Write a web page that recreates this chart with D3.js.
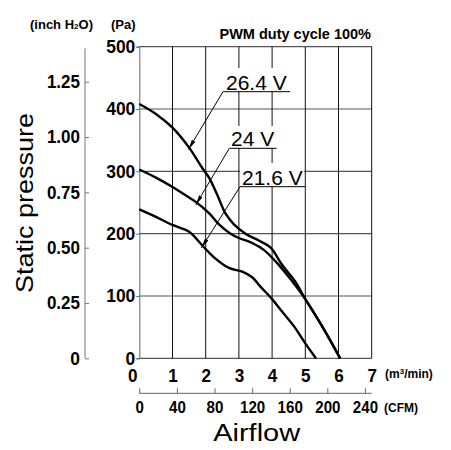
<!DOCTYPE html>
<html>
<head>
<meta charset="utf-8">
<title></title>
<script src="https://d3js.org/d3.v7.min.js"></script>
<style type="text/css">
	body { margin: 0; background: #fff; }
	.num { font-family: "Liberation Sans", Arial, sans-serif; font-weight: bold; }
	.lbl { font-family: "Liberation Sans", Arial, sans-serif; }
</style>
</head>
<body>
<script type="text/javascript">

var width = 451,
	height = 450;

// airflow in m3/min, static pressure in Pa
var v264_flow = [0, 0.5, 1, 1.5, 1.9, 2.1, 2.35, 2.6, 2.85, 3.2, 3.6, 3.95, 4.3, 4.7, 5, 5.5, 6.05];
var v264_pa   = [408, 392, 370, 338, 305, 290, 262, 232, 215, 200, 189, 178, 150, 123, 95, 52, 0];

var v24_flow = [0, 0.5, 1, 1.5, 1.7, 2.1, 2.4, 2.75, 3, 3.4, 3.75, 4.2, 4.6, 5, 5.5, 6.05];
var v24_pa   = [303, 290, 275, 258, 251, 233, 215, 200, 193, 185, 174, 150, 124, 95, 52, 0];

var v216_flow = [0, 0.5, 1, 1.5, 1.9, 2.25, 2.7, 3.1, 3.4, 3.65, 4, 4.3, 4.65, 5, 5.32];
var v216_pa   = [239, 227, 214, 203, 181, 162, 145, 139, 130, 115, 95, 75, 52, 24, 0];

var flowTicks = [0, 1, 2, 3, 4, 5, 6, 7];
var paTicks = [0, 100, 200, 300, 400, 500];
var inchTicks = [0, 0.25, 0.5, 0.75, 1.0, 1.25];
var cfmTicks = [0, 40, 80, 120, 160, 200, 240];

var svg = d3.select('body').append('svg')
	.attr('width', width)
	.attr('height', height)

var x = d3.scaleLinear().domain([0, 7]).range([139.3, 371.7]);
var y = d3.scaleLinear().domain([0, 500]).range([358.3, 46.7]);
var yInch = d3.scaleLinear().domain([0, 1.25]).range([358.3, 81.7]);
var xCfm = d3.scaleLinear().domain([0, 7 * 35.3147]).range([139.3, 371.7]);

// squeeze tick text into a condensed look
function condense(sel, digitW) {
	sel.each(function() {
		var t = d3.select(this), s = t.text();
		var w = 0;
		for (var i = 0; i < s.length; i++) w += (s[i] === '.' ? 4 : digitW);
		t.attr('textLength', w).attr('lengthAdjust', 'spacingAndGlyphs');
	});
}

// grid
svg.append('g').selectAll('line')
	.data(paTicks)
	.enter().append('line')
	.attr('x1', x(0)).attr('x2', x(7))
	.attr('y1', function(d){ return y(d) }).attr('y2', function(d){ return y(d) })
	.style('stroke', '#555').style('stroke-width', 1.2)

svg.append('g').selectAll('line')
	.data(flowTicks.slice(1))
	.enter().append('line')
	.attr('x1', function(d){ return x(d) }).attr('x2', function(d){ return x(d) })
	.attr('y1', y(500)).attr('y2', y(0))
	.style('stroke', '#111').style('stroke-width', 1)

// Pa axis
var paAxis = svg.append('g')
	.attr('class', 'num')
	.attr('transform', 'translate(' + x(0) + ',0)')
	.call(d3.axisLeft(y).tickValues(paTicks).tickSize(3).tickPadding(1).tickFormat(d3.format('d')))
paAxis.select('.domain').style('stroke', '#666')
paAxis.selectAll('.tick line').style('stroke', '#666')
paAxis.selectAll('text').style('font-size', '18px').attr('fill', '#000').call(condense, 9.7)

// inch H2O axis
var inchAxis = svg.append('g')
	.attr('class', 'num')
	.attr('transform', 'translate(85,0)')
	.call(d3.axisLeft(yInch).tickValues(inchTicks).tickSize(-4).tickSizeOuter(0).tickPadding(5)
		.tickFormat(function(d){ return d === 0 ? '0' : d3.format('.2f')(d) }))
inchAxis.select('.domain').attr('d', 'M0,' + 48.3 + 'V' + yInch(0)).style('stroke', '#777')
inchAxis.selectAll('.tick line').style('stroke', '#777')
inchAxis.selectAll('text').style('font-size', '18px').attr('fill', '#000').call(condense, 9.7)

// m3/min labels
var flowAxis = svg.append('g')
	.attr('class', 'num')
	.attr('transform', 'translate(0,' + y(0) + ')')
	.call(d3.axisBottom(x).tickValues(flowTicks).tickSize(0).tickPadding(11).tickFormat(d3.format('d')))
flowAxis.select('.domain').remove()
flowAxis.selectAll('text').style('font-size', '18px').attr('fill', '#000')
	.attr('dx', function(d){ return d === 0 ? -7 : 0 })
	.call(condense, 9.5)

// CFM axis
var cfmAxis = svg.append('g')
	.attr('class', 'num')
	.attr('transform', 'translate(0,393.3)')
	.call(d3.axisBottom(xCfm).tickValues(cfmTicks).tickSize(-5).tickSizeOuter(0).tickPadding(8))
cfmAxis.select('.domain').attr('d', 'M' + x(0) + ',0H' + x(7)).style('stroke', '#666')
cfmAxis.selectAll('.tick line').style('stroke', '#666')
cfmAxis.selectAll('text').style('font-size', '17px').attr('fill', '#000').call(condense, 8.4)

// unit labels
svg.append('text').attr('class', 'lbl').attr('x', 385).attr('y', 378)
	.style('font-size', '12px').style('font-weight', 'bold')
	.html('(m<tspan dy="-4" font-size="8px">3</tspan><tspan dy="4">/min)</tspan>')

svg.append('text').attr('class', 'lbl').attr('x', 384).attr('y', 412)
	.style('font-size', '12px').style('font-weight', 'bold')
	.text('(CFM)')

svg.append('text').attr('class', 'lbl').attr('x', 30).attr('y', 29)
	.style('font-size', '13px').style('font-weight', 'bold')
	.html('(inch H<tspan font-size="8px">2</tspan>O)')

svg.append('text').attr('class', 'lbl').attr('x', 111).attr('y', 29)
	.style('font-size', '13px').style('font-weight', 'bold')
	.text('(Pa)')

svg.append('text').attr('class', 'lbl').attr('x', 371).attr('y', 39)
	.attr('text-anchor', 'end')
	.style('font-size', '14.5px').style('font-weight', 'bold')
	.text('PWM duty cycle 100%')

svg.append('text').attr('class', 'lbl')
	.attr('transform', 'translate(33,203) rotate(-90)')
	.attr('text-anchor', 'middle')
	.attr('textLength', 180).attr('lengthAdjust', 'spacingAndGlyphs')
	.style('font-size', '24px')
	.text('Static pressure')

svg.append('text').attr('class', 'lbl')
	.attr('x', 256.7).attr('y', 441)
	.attr('text-anchor', 'middle')
	.attr('textLength', 87).attr('lengthAdjust', 'spacingAndGlyphs')
	.style('font-size', '23px')
	.text('Airflow')

// curves
var line = d3.line()
	.x(function(d){ return x(d[0]) })
	.y(function(d){ return y(d[1]) })
	.curve(d3.curveCatmullRom.alpha(0.5))

var series = [
	d3.zip(v264_flow, v264_pa),
	d3.zip(v24_flow, v24_pa),
	d3.zip(v216_flow, v216_pa)
]

svg.append('g').selectAll('path')
	.data(series)
	.enter().append('path')
	.attr('d', line)
	.style('fill', 'none')
	.style('stroke', '#000')
	.style('stroke-width', 2.4)

// voltage labels with leader arrows
svg.append('defs').append('marker')
	.attr('id', 'arr')
	.attr('viewBox', '0 0 10 4')
	.attr('refX', 10).attr('refY', 2)
	.attr('markerWidth', 10).attr('markerHeight', 4)
	.attr('markerUnits', 'userSpaceOnUse')
	.attr('orient', 'auto')
	.append('path').attr('d', 'M0,0L10,2L0,4Z').attr('fill', '#000')

var labels = [
	{ text: '26.4 V', x0: 223, x1: 290, ly: 91.7, tx: 226, box: [223, 68, 67, 23], tip: [1.48, 340] },
	{ text: '24 V', x0: 229.3, x1: 276.7, ly: 148.3, tx: 231, box: [229, 126, 48, 22], tip: [1.7, 251] },
	{ text: '21.6 V', x0: 240, x1: 305, ly: 186.7, tx: 242, box: [240, 163, 64, 23], tip: [1.87, 182] }
]

var lab = svg.append('g').selectAll('g')
	.data(labels)
	.enter().append('g')

lab.append('rect')
	.attr('x', function(d){ return d.box[0] }).attr('y', function(d){ return d.box[1] })
	.attr('width', function(d){ return d.box[2] }).attr('height', function(d){ return d.box[3] })
	.attr('fill', '#fff')

lab.append('text').attr('class', 'lbl')
	.attr('x', function(d){ return d.tx }).attr('y', function(d){ return d.ly - 2 })
	.style('font-size', '21px')
	.text(function(d){ return d.text })

lab.append('line')
	.attr('x1', function(d){ return d.x0 }).attr('x2', function(d){ return d.x1 })
	.attr('y1', function(d){ return d.ly }).attr('y2', function(d){ return d.ly })
	.style('stroke', '#000').style('stroke-width', 1)

lab.append('line')
	.attr('x1', function(d){ return d.x0 }).attr('y1', function(d){ return d.ly })
	.attr('x2', function(d){ return x(d.tip[0]) }).attr('y2', function(d){ return y(d.tip[1]) + 3 })
	.style('stroke', '#000').style('stroke-width', 1)
	.attr('marker-end', 'url(#arr)')

</script>
</body>
</html>
